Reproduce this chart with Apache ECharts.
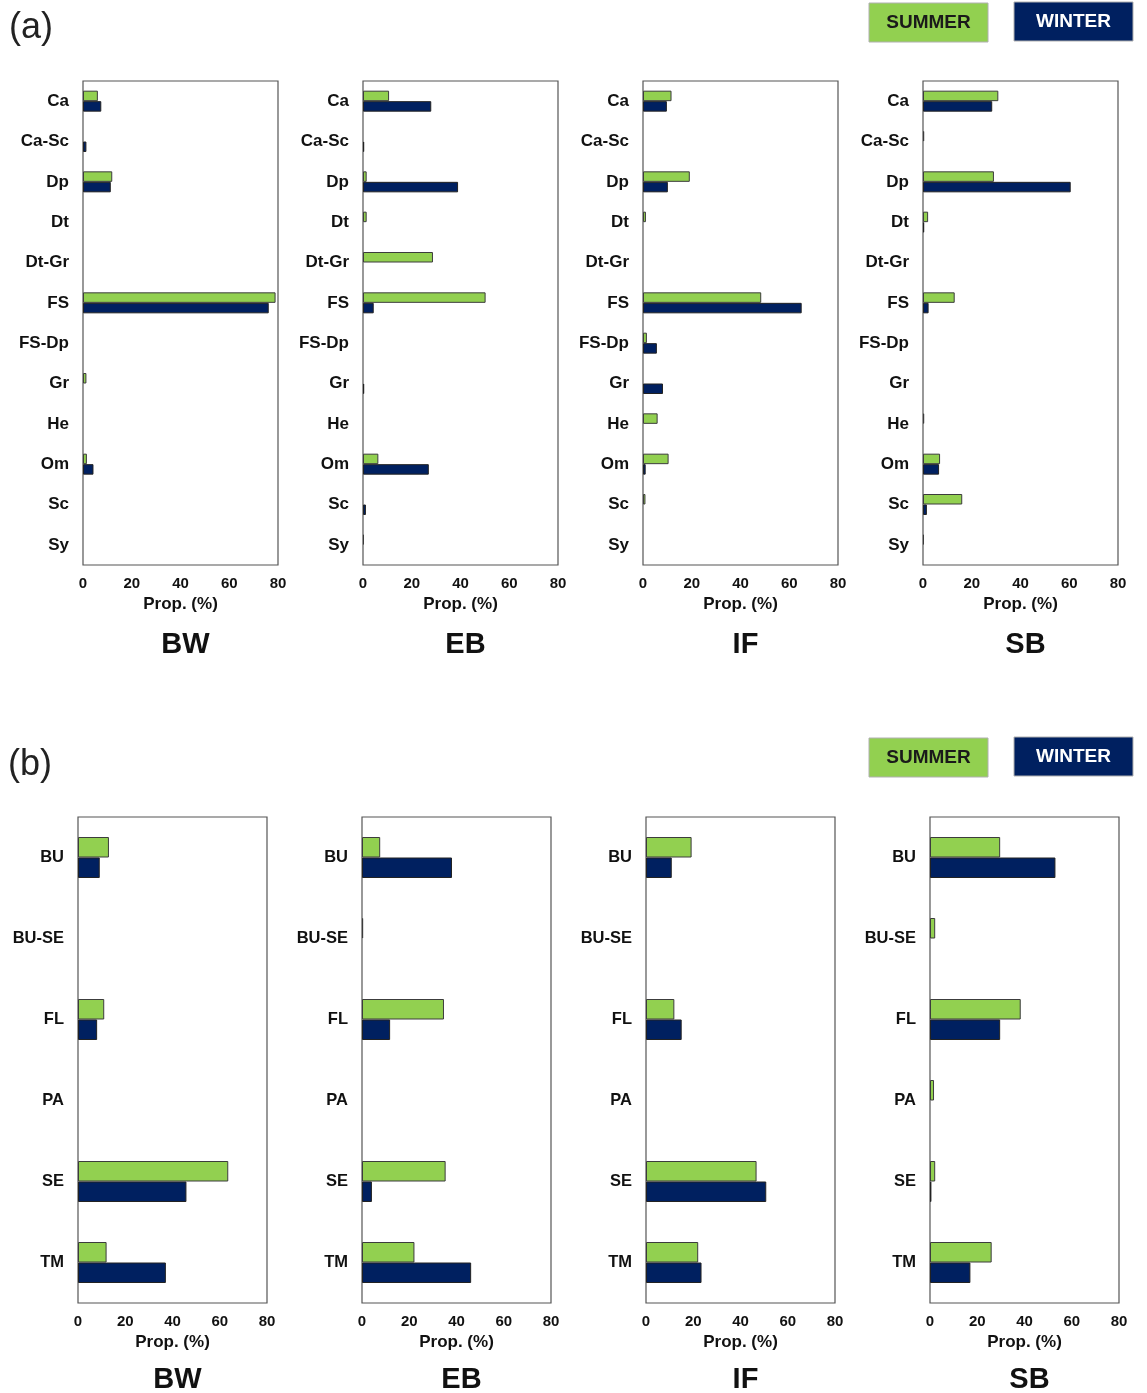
<!DOCTYPE html>
<html><head><meta charset="utf-8">
<script src="https://cdn.jsdelivr.net/npm/echarts@6/dist/echarts.min.js"></script>
<style>html,body{margin:0;padding:0;background:#fff}#c{width:1147px;height:1393px}</style>
</head><body><div id="c"></div>
<script>
const sites = ['BW', 'EB', 'IF', 'SB'];
const catsA = ['Ca','Ca-Sc','Dp','Dt','Dt-Gr','FS','FS-Dp','Gr','He','Om','Sc','Sy'];
const catsB = ['BU','BU-SE','FL','PA','SE','TM'];
const xTicks = [0, 20, 40, 60, 80];

// Panel (a)
const aBW_summer = [6.1, 0, 12.0, 0, 0, 79.0, 0, 1.4, 0, 1.6, 0, 0];
const aBW_winter = [7.5, 1.4, 11.4, 0, 0, 76.2, 0, 0, 0, 4.3, 0, 0];
const aEB_summer = [10.7, 0, 1.5, 1.5, 28.7, 50.3, 0, 0, 0, 6.3, 0, 0.4];
const aEB_winter = [28.0, 0.5, 39.0, 0, 0, 4.4, 0, 0.5, 0, 27.0, 1.2, 0];
const aIF_summer = [11.7, 0, 19.2, 1.2, 0, 48.5, 1.6, 0, 6.0, 10.5, 1.0, 0];
const aIF_winter = [9.8, 0, 10.2, 0, 0, 65.1, 5.7, 8.2, 0, 1.1, 0, 0];
const aSB_summer = [30.9, 0.5, 29.1, 2.1, 0, 13.0, 0, 0, 0.5, 7.0, 16.1, 0.4];
const aSB_winter = [28.4, 0, 60.6, 0.5, 0, 2.3, 0, 0, 0, 6.6, 1.6, 0];

// Panel (b)
const bBW_summer = [13.1, 0, 11.1, 0, 63.6, 12.1];
const bBW_winter = [9.2, 0, 8.1, 0, 45.9, 37.2];
const bEB_summer = [7.7, 0.5, 34.7, 0, 35.4, 22.2];
const bEB_winter = [38.1, 0, 11.9, 0, 4.2, 46.2];
const bIF_summer = [19.3, 0, 12.0, 0, 46.8, 22.1];
const bIF_winter = [10.9, 0, 15.1, 0, 50.9, 23.5];
const bSB_summer = [29.7, 2.2, 38.4, 1.7, 2.2, 26.1];
const bSB_winter = [53.1, 0, 29.7, 0, 0.6, 17.1];

const aSummer = [aBW_summer, aEB_summer, aIF_summer, aSB_summer];
const aWinter = [aBW_winter, aEB_winter, aIF_winter, aSB_winter];
const bSummer = [bBW_summer, bEB_summer, bIF_summer, bSB_summer];
const bWinter = [bBW_winter, bEB_winter, bIF_winter, bSB_winter];

const GREEN = '#92D050', NAVY = '#002060';
const FONT = '"Liberation Sans", Arial, sans-serif';

const grids = [], xAxes = [], yAxes = [], series = [], titles = [];
const panels = [
  {cats: catsA, summer: aSummer, winter: aWinter, lefts: [83, 363, 643, 923], width: 195, top: 81, height: 484, barW: 10.5, titleTop: 625, catFont: 17},
  {cats: catsB, summer: bSummer, winter: bWinter, lefts: [78, 362, 646, 930], width: 189, top: 817, height: 486, barW: 20.5, titleTop: 1360, catFont: 16.5}
];
const clean = arr => arr.map(v => v === 0 ? '-' : v);

panels.forEach(p => {
  sites.forEach((s, i) => {
    const gi = grids.length;
    grids.push({left: p.lefts[i], top: p.top, width: p.width, height: p.height, show: true,
      borderColor: '#555', borderWidth: 1.2, backgroundColor: '#fff', containLabel: false});
    xAxes.push({type: 'value', gridIndex: gi, min: xTicks[0], max: xTicks[xTicks.length - 1], interval: 20,
      splitLine: {show: false}, axisTick: {show: false}, axisLine: {show: false},
      axisLabel: {fontFamily: FONT, fontWeight: 'bold', fontSize: 15, color: '#111', margin: 11},
      name: 'Prop. (%)', nameLocation: 'middle', nameGap: 31,
      nameTextStyle: {fontFamily: FONT, fontWeight: 'bold', fontSize: 17, color: '#111'}});
    yAxes.push({type: 'category', gridIndex: gi, data: p.cats, inverse: true,
      axisTick: {show: false}, axisLine: {show: false}, splitLine: {show: false},
      axisLabel: {fontFamily: FONT, fontWeight: 'bold', fontSize: p.catFont, color: '#111', margin: 14}});
    series.push({type: 'bar', name: 'SUMMER', xAxisIndex: gi, yAxisIndex: gi, data: clean(p.summer[i]),
      barWidth: p.barW, barGap: '0%', itemStyle: {color: GREEN, borderColor: '#3c3c3c', borderWidth: 1}, silent: true});
    series.push({type: 'bar', name: 'WINTER', xAxisIndex: gi, yAxisIndex: gi, data: clean(p.winter[i]),
      barWidth: p.barW, barGap: '0%', itemStyle: {color: NAVY, borderColor: '#222', borderWidth: 1}, silent: true});
    titles.push({text: s, left: p.lefts[i] + p.width / 2, top: p.titleTop, textAlign: 'center',
      textStyle: {fontFamily: FONT, fontWeight: 'bold', fontSize: 29, color: '#111'}});
  });
});

function legendBlock(y) {
  return [
    {type: 'rect', shape: {x: 869, y: y + 1, width: 119, height: 39}, style: {fill: GREEN, stroke: '#b0b0b0', lineWidth: 1}},
    {type: 'text', x: 928.5, y: y + 21, style: {text: 'SUMMER', fill: '#1a1a1a', font: 'bold 19px ' + FONT, textAlign: 'center', textVerticalAlign: 'middle'}},
    {type: 'rect', shape: {x: 1014, y: y, width: 119, height: 39}, style: {fill: NAVY, stroke: '#b0b0b0', lineWidth: 1}},
    {type: 'text', x: 1073.5, y: y + 20, style: {text: 'WINTER', fill: '#fff', font: 'bold 19px ' + FONT, textAlign: 'center', textVerticalAlign: 'middle'}}
  ];
}

const graphic = [
  {type: 'text', x: 9, y: 28, style: {text: '(a)', fill: '#222', font: '36px ' + FONT, textVerticalAlign: 'middle'}},
  {type: 'text', x: 8, y: 765, style: {text: '(b)', fill: '#222', font: '36px ' + FONT, textVerticalAlign: 'middle'}},
  ...legendBlock(2), ...legendBlock(737)
];

const chart = echarts.init(document.getElementById('c'), null, {renderer: 'canvas'});
chart.setOption({
  animation: false, backgroundColor: '#fff',
  title: titles, grid: grids, xAxis: xAxes, yAxis: yAxes, series: series, graphic: graphic
});
</script></body></html>
